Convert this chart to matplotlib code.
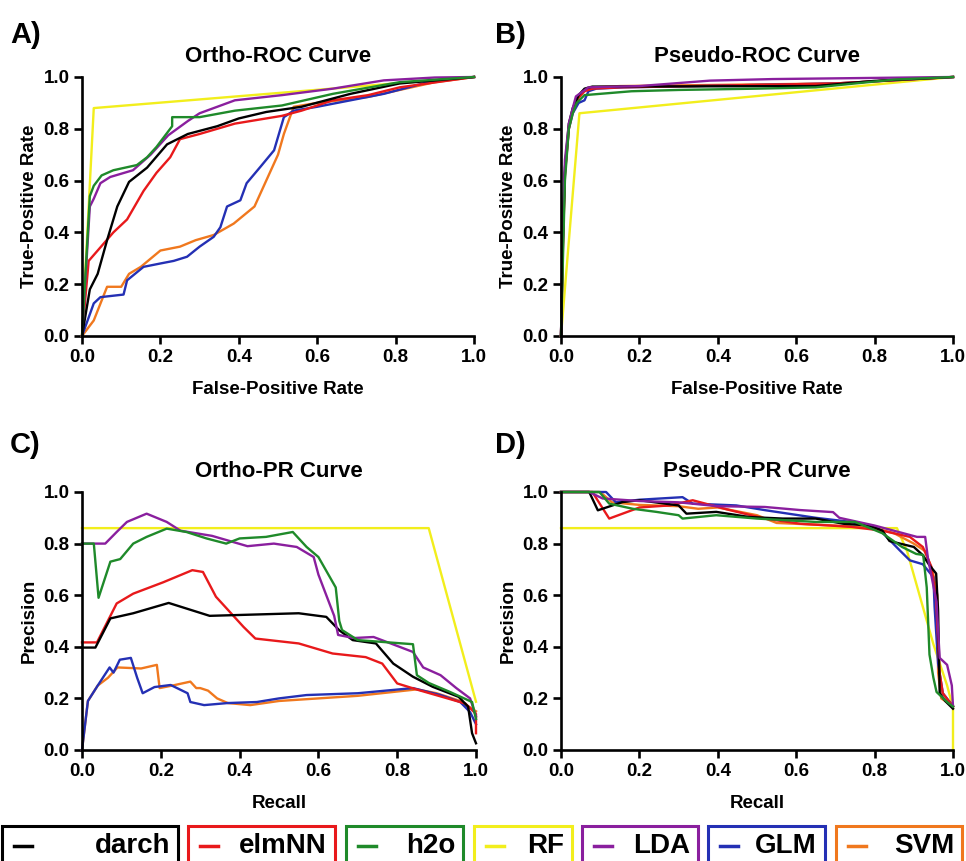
import numpy as np
import matplotlib
matplotlib.use("Agg")
import matplotlib.pyplot as plt
from matplotlib.lines import Line2D
from matplotlib.patches import Rectangle

plt.rcParams['font.family'] = ['Liberation Sans', 'DejaVu Sans']
plt.rcParams['font.weight'] = 'bold'

models = ['darch', 'elmNN', 'h2o', 'RF', 'LDA', 'GLM', 'SVM']
colors = ['#000000', '#e8191b', '#1f8a2a', '#f2ee1c', '#8a1f9e', '#2430b4', '#f0781e']

# ---- A) Ortho-ROC (FPR, TPR) ----
orthoroc_darch_x = [0, 0.02, 0.04, 0.064, 0.09, 0.12, 0.166, 0.217, 0.27, 0.345, 0.40, 0.47, 0.56, 0.685, 0.81, 1.0]
orthoroc_darch_y = [0, 0.18, 0.24, 0.37, 0.50, 0.595, 0.65, 0.74, 0.78, 0.81, 0.84, 0.865, 0.885, 0.935, 0.975, 1.0]
orthoroc_elmnn_x = [0, 0.017, 0.04, 0.08, 0.115, 0.157, 0.19, 0.225, 0.25, 0.30, 0.39, 0.47, 0.51, 0.56, 0.64, 0.73, 0.81, 1.0]
orthoroc_elmnn_y = [0, 0.29, 0.33, 0.40, 0.45, 0.56, 0.63, 0.69, 0.76, 0.78, 0.82, 0.84, 0.85, 0.87, 0.91, 0.93, 0.96, 1.0]
orthoroc_h2o_x = [0, 0.02, 0.03, 0.05, 0.08, 0.14, 0.166, 0.19, 0.23, 0.23, 0.30, 0.39, 0.51, 0.64, 0.81, 1.0]
orthoroc_h2o_y = [0, 0.54, 0.58, 0.62, 0.64, 0.66, 0.69, 0.73, 0.81, 0.845, 0.845, 0.87, 0.89, 0.935, 0.98, 1.0]
orthoroc_rf_x = [0, 0.03, 1.0]
orthoroc_rf_y = [0, 0.88, 1.0]
orthoroc_lda_x = [0, 0.02, 0.03, 0.047, 0.072, 0.13, 0.175, 0.22, 0.27, 0.30, 0.39, 0.51, 0.64, 0.77, 0.9, 1.0]
orthoroc_lda_y = [0, 0.50, 0.53, 0.59, 0.614, 0.64, 0.70, 0.775, 0.83, 0.86, 0.91, 0.93, 0.955, 0.987, 0.998, 1.0]
orthoroc_glm_x = [0, 0.03, 0.047, 0.106, 0.115, 0.157, 0.2, 0.234, 0.268, 0.30, 0.336, 0.353, 0.37, 0.404, 0.42, 0.455,
                  0.49, 0.515, 0.54, 0.6, 0.685, 0.77, 0.9, 1.0]
orthoroc_glm_y = [0, 0.126, 0.15, 0.16, 0.215, 0.267, 0.28, 0.29, 0.306, 0.345, 0.383, 0.42, 0.50, 0.524, 0.59, 0.653,
                  0.717, 0.845, 0.87, 0.885, 0.91, 0.935, 0.987, 1.0]
orthoroc_svm_x = [0, 0.03, 0.064, 0.1, 0.12, 0.15, 0.2, 0.25, 0.29, 0.336, 0.387, 0.44, 0.47, 0.5, 0.515, 0.54, 0.6, 0.73, 0.9, 1.0]
orthoroc_svm_y = [0, 0.06, 0.19, 0.19, 0.24, 0.267, 0.33, 0.345, 0.37, 0.39, 0.434, 0.50, 0.60, 0.70, 0.78, 0.885, 0.90, 0.923, 0.98, 1.0]

# ---- B) Pseudo-ROC ----
pseudoroc_darch_x = [0, 0.005, 0.01, 0.02, 0.03, 0.045, 0.06, 0.08, 0.65, 0.8, 1.0]
pseudoroc_darch_y = [0, 0.40, 0.65, 0.82, 0.88, 0.93, 0.955, 0.963, 0.965, 0.985, 1.0]
pseudoroc_elmnn_x = [0, 0.005, 0.01, 0.02, 0.03, 0.045, 0.06, 0.08, 0.15, 0.7, 1.0]
pseudoroc_elmnn_y = [0, 0.35, 0.62, 0.80, 0.87, 0.92, 0.945, 0.955, 0.96, 0.975, 1.0]
pseudoroc_h2o_x = [0, 0.005, 0.01, 0.02, 0.03, 0.04, 0.06, 0.1, 0.18, 0.3, 0.5, 0.65, 0.75, 0.85, 1.0]
pseudoroc_h2o_y = [0, 0.30, 0.60, 0.80, 0.86, 0.90, 0.93, 0.935, 0.945, 0.95, 0.955, 0.96, 0.975, 0.99, 1.0]
pseudoroc_rf_x = [0, 0.047, 1.0]
pseudoroc_rf_y = [0, 0.86, 1.0]
pseudoroc_lda_x = [0, 0.005, 0.01, 0.02, 0.03, 0.038, 0.07, 0.2, 0.38, 0.54, 1.0]
pseudoroc_lda_y = [0, 0.45, 0.68, 0.82, 0.88, 0.925, 0.96, 0.965, 0.986, 0.992, 1.0]
pseudoroc_glm_x = [0, 0.005, 0.01, 0.02, 0.03, 0.045, 0.06, 0.07, 0.09, 0.16, 0.7, 1.0]
pseudoroc_glm_y = [0, 0.38, 0.63, 0.80, 0.86, 0.90, 0.91, 0.945, 0.955, 0.96, 0.975, 1.0]
pseudoroc_svm_x = [0, 0.005, 0.01, 0.02, 0.03, 0.045, 0.06, 0.08, 0.15, 0.7, 1.0]
pseudoroc_svm_y = [0, 0.36, 0.63, 0.81, 0.87, 0.925, 0.95, 0.96, 0.965, 0.975, 1.0]

# ---- C) Ortho-PR (Recall, Precision) ----
orthopr_darch_x = [0, 0.034, 0.072, 0.13, 0.22, 0.324, 0.55, 0.62, 0.653, 0.687, 0.746, 0.79, 0.84, 0.89, 0.956, 0.98, 0.99, 1.0]
orthopr_darch_y = [0.397, 0.397, 0.51, 0.53, 0.57, 0.52, 0.53, 0.516, 0.464, 0.426, 0.413, 0.335, 0.284, 0.245, 0.206, 0.168, 0.065, 0.026]
orthopr_elmnn_x = [0, 0.038, 0.088, 0.13, 0.206, 0.28, 0.307, 0.34, 0.41, 0.44, 0.55, 0.636, 0.72, 0.762, 0.80, 0.855, 0.914, 0.973, 1.0, 1.0]
orthopr_elmnn_y = [0.417, 0.417, 0.568, 0.606, 0.65, 0.697, 0.69, 0.594, 0.477, 0.432, 0.413, 0.374, 0.36, 0.335, 0.258, 0.232, 0.206, 0.18, 0.14, 0.065]
orthopr_h2o_x = [0, 0.03, 0.042, 0.072, 0.097, 0.13, 0.164, 0.215, 0.265, 0.316, 0.366, 0.40, 0.467, 0.535, 0.57, 0.60, 0.644,
                 0.653, 0.66, 0.70, 0.84, 0.85, 0.88, 0.934, 0.99, 1.0]
orthopr_h2o_y = [0.80, 0.80, 0.59, 0.73, 0.74, 0.80, 0.826, 0.858, 0.845, 0.82, 0.80, 0.82, 0.826, 0.845, 0.787, 0.748, 0.63,
                 0.50, 0.465, 0.426, 0.41, 0.29, 0.26, 0.225, 0.186, 0.12]
orthopr_rf_x = [0, 0.88, 1.0]
orthopr_rf_y = [0.86, 0.86, 0.187]
orthopr_lda_x = [0, 0.059, 0.088, 0.114, 0.164, 0.215, 0.25, 0.33, 0.42, 0.487, 0.545, 0.588, 0.60, 0.62, 0.64, 0.65, 0.69,
                 0.74, 0.78, 0.84, 0.866, 0.91, 0.95, 0.985, 1.0]
orthopr_lda_y = [0.80, 0.80, 0.845, 0.884, 0.916, 0.884, 0.85, 0.83, 0.79, 0.80, 0.787, 0.748, 0.68, 0.60, 0.52, 0.446, 0.434,
                 0.438, 0.415, 0.38, 0.32, 0.29, 0.24, 0.20, 0.13]
orthopr_glm_x = [0, 0.015, 0.04, 0.07, 0.08, 0.096, 0.124, 0.14, 0.154, 0.184, 0.225, 0.268, 0.275, 0.31, 0.37, 0.444, 0.50,
                 0.57, 0.70, 0.84, 0.91, 0.96, 0.985, 1.0]
orthopr_glm_y = [0, 0.19, 0.25, 0.32, 0.30, 0.35, 0.357, 0.28, 0.22, 0.244, 0.252, 0.22, 0.186, 0.174, 0.182, 0.186, 0.20,
                 0.213, 0.22, 0.24, 0.213, 0.186, 0.147, 0.10]
orthopr_svm_x = [0, 0.015, 0.04, 0.066, 0.09, 0.15, 0.19, 0.197, 0.23, 0.275, 0.29, 0.30, 0.32, 0.343, 0.37, 0.427, 0.50,
                 0.60, 0.70, 0.85, 0.90, 0.96, 1.0]
orthopr_svm_y = [0, 0.19, 0.25, 0.28, 0.32, 0.316, 0.33, 0.24, 0.25, 0.265, 0.24, 0.24, 0.23, 0.20, 0.182, 0.174, 0.19,
                 0.20, 0.21, 0.235, 0.22, 0.19, 0.15]

# ---- D) Pseudo-PR ----
pseudopr_darch_x = [0, 0.072, 0.094, 0.157, 0.2, 0.30, 0.32, 0.396, 0.48, 0.566, 0.65, 0.72, 0.787, 0.82, 0.838, 0.90,
                    0.923, 0.94, 0.957, 0.962, 0.966, 0.98, 1.0]
pseudopr_darch_y = [1.0, 1.0, 0.929, 0.961, 0.968, 0.948, 0.916, 0.923, 0.903, 0.897, 0.897, 0.877, 0.87, 0.85, 0.81, 0.787,
                    0.755, 0.716, 0.684, 0.54, 0.22, 0.19, 0.16]
pseudopr_elmnn_x = [0, 0.08, 0.123, 0.20, 0.277, 0.336, 0.43, 0.52, 0.61, 0.74, 0.82, 0.89, 0.923, 0.945, 0.957, 0.966, 0.974, 1.0]
pseudopr_elmnn_y = [1.0, 1.0, 0.897, 0.94, 0.948, 0.968, 0.93, 0.897, 0.877, 0.865, 0.85, 0.826, 0.787, 0.71, 0.58, 0.297, 0.22, 0.168]
pseudopr_h2o_x = [0, 0.098, 0.123, 0.183, 0.243, 0.30, 0.31, 0.396, 0.50, 0.65, 0.75, 0.82, 0.87, 0.906, 0.924, 0.933,
                  0.94, 0.95, 0.958, 0.985, 1.0]
pseudopr_h2o_y = [1.0, 1.0, 0.955, 0.935, 0.923, 0.91, 0.897, 0.91, 0.897, 0.884, 0.884, 0.84, 0.787, 0.76, 0.756, 0.63,
                  0.37, 0.28, 0.225, 0.186, 0.168]
pseudopr_rf_x = [0, 0.857, 0.883, 0.95, 0.985, 1.0, 1.0]
pseudopr_rf_y = [0.86, 0.86, 0.77, 0.41, 0.25, 0.163, 0.0]
pseudopr_lda_x = [0, 0.072, 0.106, 0.2, 0.3, 0.4, 0.52, 0.61, 0.694, 0.71, 0.80, 0.908, 0.929, 0.936, 0.958, 0.966, 0.985, 0.997, 1.0]
pseudopr_lda_y = [1.0, 1.0, 0.975, 0.965, 0.96, 0.945, 0.942, 0.93, 0.922, 0.90, 0.87, 0.826, 0.826, 0.744, 0.574, 0.357, 0.33, 0.25, 0.17]
pseudopr_glm_x = [0, 0.115, 0.14, 0.2, 0.31, 0.336, 0.447, 0.523, 0.65, 0.74, 0.81, 0.864, 0.89, 0.923, 0.95, 0.953, 0.962, 0.974, 1.0]
pseudopr_glm_y = [1.0, 1.0, 0.96, 0.97, 0.98, 0.955, 0.948, 0.929, 0.90, 0.884, 0.858, 0.774, 0.735, 0.72, 0.67, 0.555, 0.335, 0.22, 0.17]
pseudopr_svm_x = [0, 0.1, 0.13, 0.2, 0.3, 0.35, 0.4, 0.5, 0.55, 0.7, 0.8, 0.85, 0.9, 0.93, 0.95, 0.96, 0.962, 0.97, 1.0]
pseudopr_svm_y = [1.0, 1.0, 0.96, 0.95, 0.945, 0.935, 0.94, 0.91, 0.88, 0.87, 0.86, 0.84, 0.80, 0.77, 0.68, 0.60, 0.30, 0.20, 0.17]

panels = [
    ('A)', 'Ortho-ROC Curve', 'False-Positive Rate', 'True-Positive Rate',
     [(orthoroc_darch_x, orthoroc_darch_y), (orthoroc_elmnn_x, orthoroc_elmnn_y), (orthoroc_h2o_x, orthoroc_h2o_y),
      (orthoroc_rf_x, orthoroc_rf_y), (orthoroc_lda_x, orthoroc_lda_y), (orthoroc_glm_x, orthoroc_glm_y),
      (orthoroc_svm_x, orthoroc_svm_y)]),
    ('B)', 'Pseudo-ROC Curve', 'False-Positive Rate', 'True-Positive Rate',
     [(pseudoroc_darch_x, pseudoroc_darch_y), (pseudoroc_elmnn_x, pseudoroc_elmnn_y), (pseudoroc_h2o_x, pseudoroc_h2o_y),
      (pseudoroc_rf_x, pseudoroc_rf_y), (pseudoroc_lda_x, pseudoroc_lda_y), (pseudoroc_glm_x, pseudoroc_glm_y),
      (pseudoroc_svm_x, pseudoroc_svm_y)]),
    ('C)', 'Ortho-PR Curve', 'Recall', 'Precision',
     [(orthopr_darch_x, orthopr_darch_y), (orthopr_elmnn_x, orthopr_elmnn_y), (orthopr_h2o_x, orthopr_h2o_y),
      (orthopr_rf_x, orthopr_rf_y), (orthopr_lda_x, orthopr_lda_y), (orthopr_glm_x, orthopr_glm_y),
      (orthopr_svm_x, orthopr_svm_y)]),
    ('D)', 'Pseudo-PR Curve', 'Recall', 'Precision',
     [(pseudopr_darch_x, pseudopr_darch_y), (pseudopr_elmnn_x, pseudopr_elmnn_y), (pseudopr_h2o_x, pseudopr_h2o_y),
      (pseudopr_rf_x, pseudopr_rf_y), (pseudopr_lda_x, pseudopr_lda_y), (pseudopr_glm_x, pseudopr_glm_y),
      (pseudopr_svm_x, pseudopr_svm_y)]),
]

# draw order: yellow first so others sit on top, like the original
draw_order = [3, 6, 5, 1, 0, 4, 2]

W, H = 966, 861
fig = plt.figure(figsize=(W / 100, H / 100), dpi=100)

# axes boxes in pixels: left, top, right, bottom
boxes = [(82, 77, 474, 336), (561, 77, 953, 336), (82, 492, 476, 750), (561, 492, 953, 750)]
label_pos = [(10, 35), (495, 35), (10, 445), (495, 445)]

ticks = [0, 0.2, 0.4, 0.6, 0.8, 1.0]
for (tag, title, xl, yl, curves), (l, t, r, b), (lx, ly) in zip(panels, boxes, label_pos):
    ax = fig.add_axes([l / W, 1 - b / H, (r - l) / W, (b - t) / H])
    for i in draw_order:
        x, y = curves[i]
        ax.plot(x, y, color=colors[i], lw=1.7, clip_on=False)
    ax.set_xlim(0, 1)
    ax.set_ylim(0, 1)
    ax.set_xticks(ticks)
    ax.set_yticks(ticks)
    ax.set_xticklabels(['%.1f' % v for v in ticks])
    ax.set_yticklabels(['%.1f' % v for v in ticks])
    for s in ['top', 'right']:
        ax.spines[s].set_visible(False)
    for s in ['left', 'bottom']:
        ax.spines[s].set_linewidth(1.9)
    ax.tick_params(width=1.9, length=6, labelsize=13.5, pad=3)
    for lab in ax.get_xticklabels() + ax.get_yticklabels():
        lab.set_fontweight('bold')
    ax.set_title(title, fontsize=16, fontweight='bold', pad=11)
    ax.set_xlabel(xl, fontsize=13.5, fontweight='bold', labelpad=11)
    ax.set_ylabel(yl, fontsize=13.5, fontweight='bold', labelpad=4)
    fig.text(lx / W, 1 - ly / H, tag, fontsize=21, fontweight='bold', va='center', ha='left')

# legend row: one framed box per model, drawn by hand to match widths
box_x = [(2, 178), (188, 335), (346, 463), (474, 572), (582, 698), (708, 825), (836, 962)]
box_top, box_bot = 826, 872
ty = 1 - 846 / H
for name, c, (x0, x1) in zip(models, colors, box_x):
    fig.patches.append(Rectangle((x0 / W, 1 - box_bot / H), (x1 - x0) / W, (box_bot - box_top) / H,
                                 transform=fig.transFigure, fill=False, edgecolor=c, lw=2.2))
    fig.lines.append(Line2D([(x0 + 12) / W, (x0 + 30) / W], [ty, ty], transform=fig.transFigure,
                            color=c, lw=2.5))
    fig.text((x1 - 8) / W, ty, name, ha='right', va='center', fontsize=20,
             fontweight='bold', family=['Liberation Sans', 'DejaVu Sans'])

fig.savefig('out.png', dpi=100)
